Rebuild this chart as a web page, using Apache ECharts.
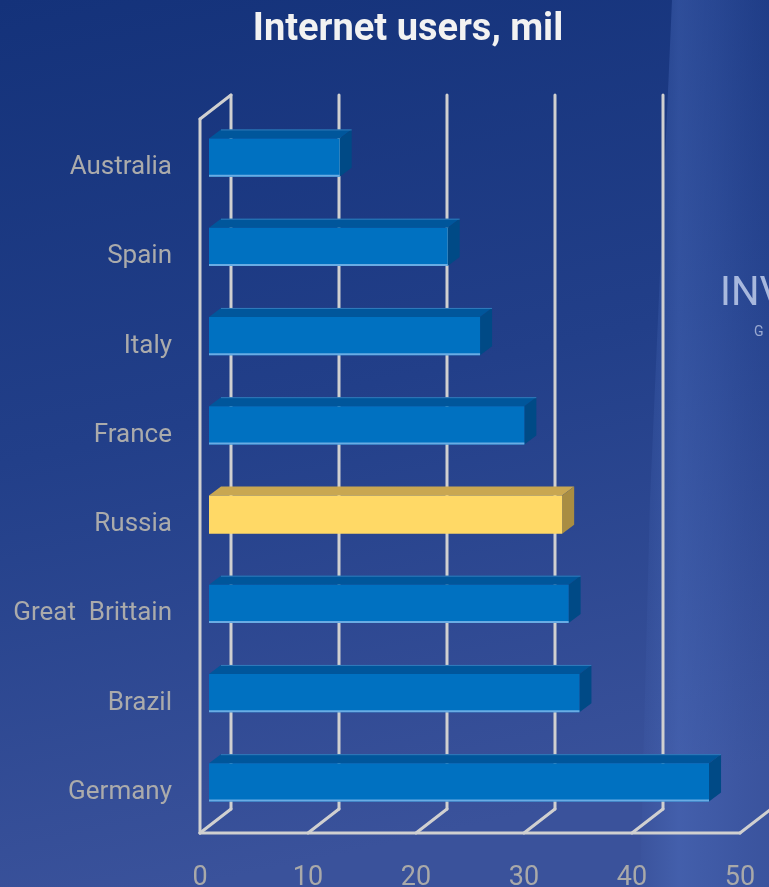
<!DOCTYPE html>
<html>
<head>
<meta charset="utf-8">
<style>
  html, body { margin: 0; padding: 0; background: #1c3a82; }
  #chart { width: 769px; height: 887px; }
</style>
<script src="https://cdn.jsdelivr.net/npm/echarts@6/dist/echarts.min.js"></script>
</head>
<body>
<div id="chart"></div>
<script>
// Internet users by country, millions
const categories = ['Australia', 'Spain', 'Italy', 'France', 'Russia', 'Great  Brittain', 'Brazil', 'Germany'];
const users = [12.1, 22.1, 25.1, 29.2, 32.7, 33.3, 34.3, 46.3];
const xTicks = [0, 10, 20, 30, 40, 50];
const highlighted = 'Russia';

// depth vector of the 3D box (back wall relative to the front plane)
const DEPTH = [31, -24];
// the box frame slightly overhangs the plotting rectangle
const FRAME_TOP = -4;
const FRAME_BOTTOM = -4;
// bar placement inside the box
const BAR_SHIFT = [9, -10];
const BAR_DEPTH = [12, -9];

const palette = {
  normal: { front: '#0071c1', top: '#00569b', side: '#004a86', edge: '#74b3e8' },
  accent: { front: '#ffd966', top: '#c9a751', side: '#a98d42', edge: '#ffe9a0' }
};

const chart = echarts.init(document.getElementById('chart'));

function renderFrame(params, api) {
  const cs = params.coordSys;
  const v = api.value(0);
  const xf = api.coord([v, 0])[0];
  const yb = cs.y + cs.height + FRAME_BOTTOM;
  const yt = cs.y + FRAME_TOP;
  const line = { stroke: '#d0d0d0', lineWidth: 3, lineCap: 'round' };
  const children = [
    { type: 'line', shape: { x1: xf, y1: yb, x2: xf + DEPTH[0], y2: yb + DEPTH[1] }, style: line },
    { type: 'line', shape: { x1: xf + DEPTH[0], y1: yb + DEPTH[1], x2: xf + DEPTH[0], y2: yt + DEPTH[1] }, style: line }
  ];
  if (params.dataIndex === 0) {
    const xEnd = api.coord([xTicks[xTicks.length - 1], 0])[0];
    children.push(
      { type: 'line', shape: { x1: xf, y1: yb, x2: xf, y2: yt }, style: line },
      { type: 'line', shape: { x1: xf, y1: yt, x2: xf + DEPTH[0], y2: yt + DEPTH[1] }, style: line },
      { type: 'line', shape: { x1: xf, y1: yb, x2: xEnd, y2: yb }, style: line }
    );
  }
  return { type: 'group', children: children };
}

function renderBar(params, api) {
  const v = api.value(0);
  const i = api.value(1);
  const start = api.coord([0, i]);
  const end = api.coord([v, i]);
  const band = api.size([0, 1])[1];
  const h = band * 0.43;
  const isAccent = categories[i] === highlighted;
  const c = isAccent ? palette.accent : palette.normal;
  const x0 = start[0] + BAR_SHIFT[0];
  const x1 = end[0] + BAR_SHIFT[0];
  const yc = start[1] + BAR_SHIFT[1];
  const yt = yc - h / 2;
  const yb = yc + h / 2;
  const dx = BAR_DEPTH[0], dy = BAR_DEPTH[1];
  return {
    type: 'group',
    children: [
      { type: 'polygon', shape: { points: [[x0, yt], [x1, yt], [x1 + dx, yt + dy], [x0 + dx, yt + dy]] },
        style: { fill: c.top } },
      { type: 'polygon', shape: { points: [[x1, yt], [x1 + dx, yt + dy], [x1 + dx, yb + dy], [x1, yb]] },
        style: { fill: c.side } },
      { type: 'rect', shape: { x: x0, y: yt, width: x1 - x0, height: h },
        style: { fill: c.front } },
      { type: 'line', shape: { x1: x0, y1: yb - 1, x2: x1, y2: yb - 1 },
        style: { stroke: c.edge, lineWidth: 2, opacity: isAccent ? 0 : 0.9 } },
      { type: 'line', shape: { x1: x0 + dx, y1: yt + dy + 0.5, x2: x1 + dx, y2: yt + dy + 0.5 },
        style: { stroke: '#3f86c4', lineWidth: 1, opacity: isAccent ? 0 : 0.8 } }
    ]
  };
}

const option = {
  backgroundColor: {
    type: 'linear', x: 0, y: 0, x2: 0.25, y2: 1,
    colorStops: [
      { offset: 0, color: '#14327a' },
      { offset: 0.5, color: '#223f89' },
      { offset: 1, color: '#3a529b' }
    ]
  },
  title: {
    text: 'Internet users, mil',
    left: 403,
    top: 6,
    textAlign: 'center',
    textStyle: { fontFamily: 'Roboto', fontWeight: 'bold', fontSize: 38, color: '#f2f2f2' }
  },
  graphic: [
    {
      type: 'polygon', z: -10, silent: true,
      shape: { points: [[672, 0], [769, 0], [769, 887], [640, 887], [650, 500]] },
      style: {
        fill: {
          type: 'linear', x: 0, y: 0, x2: 1, y2: 0,
          colorStops: [
            { offset: 0, color: 'rgba(80,115,195,0.05)' },
            { offset: 0.3, color: 'rgba(82,116,198,0.38)' },
            { offset: 0.6, color: 'rgba(75,108,190,0.3)' },
            { offset: 1, color: 'rgba(60,90,170,0.18)' }
          ]
        }
      }
    },
    {
      type: 'text', z: -5, silent: true, x: 720, y: 295,
      style: { text: 'INV', font: '400 40px Roboto', fill: 'rgba(200,212,240,0.8)', verticalAlign: 'middle' }
    },
    {
      type: 'text', z: -5, silent: true, x: 754, y: 332,
      style: { text: 'G', font: '14px Roboto', fill: 'rgba(200,210,235,0.7)', verticalAlign: 'middle' }
    }
  ],
  grid: { left: 200, right: 29, top: 123, bottom: 50, outerBoundsMode: 'none', containLabel: false },
  xAxis: {
    type: 'value',
    min: 0,
    max: 50,
    interval: 10,
    axisLine: { show: false },
    axisTick: { show: false },
    splitLine: { show: false },
    axisLabel: { color: '#a9a9a9', fontFamily: 'Roboto', fontSize: 27, margin: 28 }
  },
  yAxis: {
    type: 'category',
    inverse: true,
    data: categories,
    axisLine: { show: false },
    axisTick: { show: false },
    splitLine: { show: false },
    axisLabel: { color: '#ababab', fontFamily: 'Roboto', fontSize: 26, margin: 28, padding: [4, 0, 0, 0] }
  },
  series: [
    {
      type: 'custom',
      name: 'frame',
      coordinateSystem: 'cartesian2d',
      clip: false,
      silent: true,
      z: 1,
      encode: { x: 0 },
      data: xTicks.map(function (t) { return [t]; }),
      renderItem: renderFrame
    },
    {
      type: 'custom',
      name: 'Internet users, mil',
      coordinateSystem: 'cartesian2d',
      clip: false,
      z: 2,
      encode: { x: 0, y: 1 },
      data: users.map(function (v, i) { return [v, i]; }),
      renderItem: renderBar
    }
  ]
};

chart.setOption(option);
</script>
</body>
</html>
